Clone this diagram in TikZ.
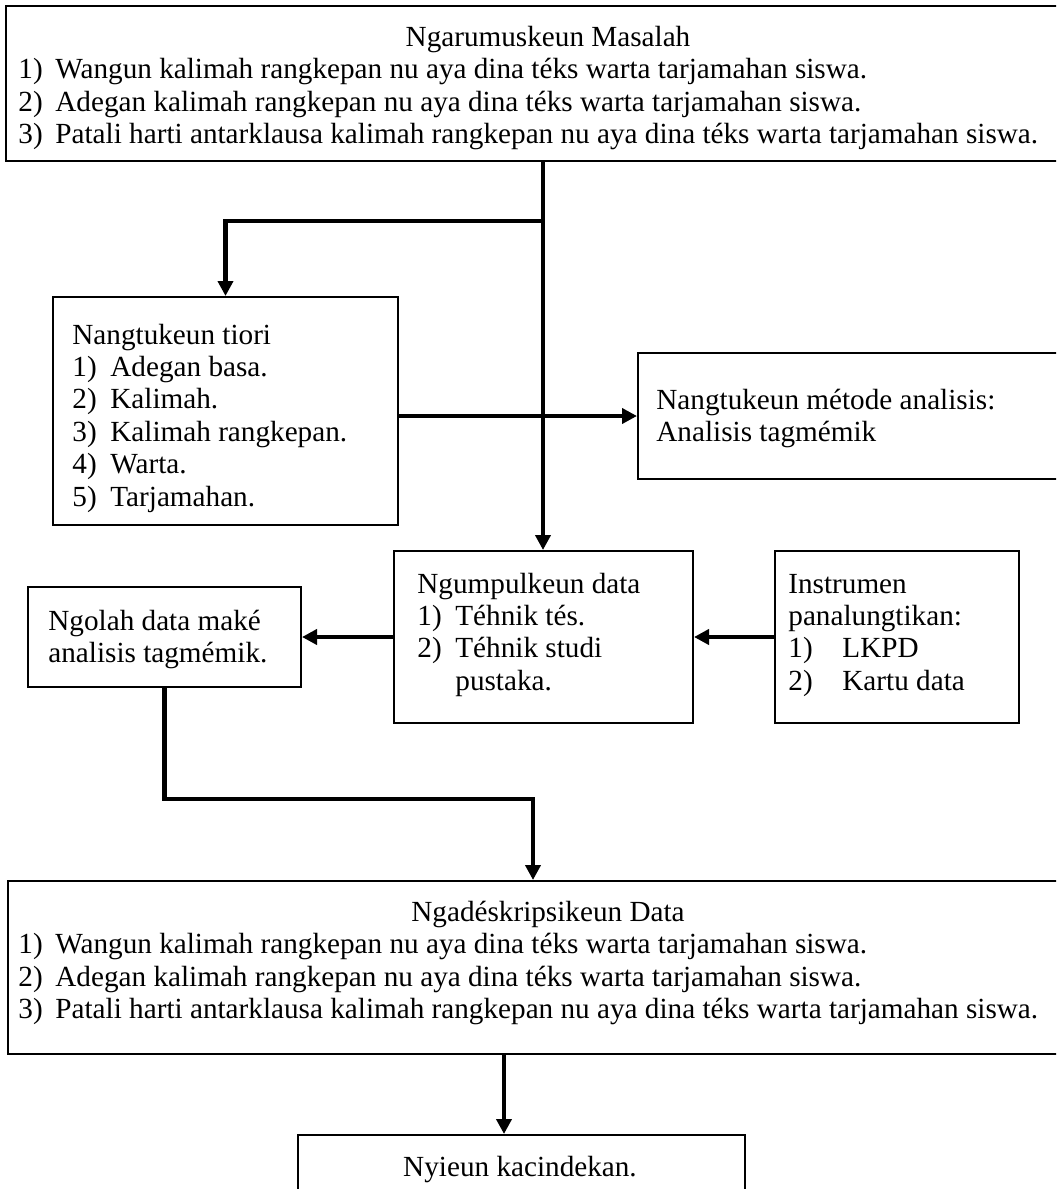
\documentclass[tikz,border=0pt]{standalone}
\usepackage{fontspec}
\setmainfont{Liberation Serif}
\usetikzlibrary{arrows.meta}
\begin{document}
\begin{tikzpicture}[x=0.5pt,y=-0.5pt,
  box/.style={draw,line width=1pt,anchor=north west,inner sep=0pt,rectangle},
  txt/.style={anchor=base west,inner sep=0pt,font=\fontsize{14.6}{16.2}\selectfont},
  ctxt/.style={anchor=base,inner sep=0pt,font=\fontsize{14.6}{16.2}\selectfont},
  conn/.style={line width=2.2pt,-{Triangle[width=7.5pt,length=7.5pt]}},
  plainline/.style={line width=2.2pt}]
\useasboundingbox (0,0) rectangle (1056,1189);
\clip (0,0) rectangle (1056,1189);
\fill[white] (0,0) rectangle (1056,1189);

% boxes
\node[box,minimum width=537.5pt,minimum height=77.5pt] (top) at (5,5) {};
\node[box,minimum width=172.5pt,minimum height=114pt] (tiori) at (52,296) {};
\node[box,minimum width=225pt,minimum height=63pt] (metode) at (637,352) {};
\node[box,minimum width=149.5pt,minimum height=86pt] (ngum) at (393,550) {};
\node[box,minimum width=122pt,minimum height=86pt] (instr) at (774,550) {};
\node[box,minimum width=136.5pt,minimum height=50pt] (ngolah) at (27,586) {};
\node[box,minimum width=536.5pt,minimum height=86.5pt] (data) at (7,880) {};
\node[box,minimum width=223.5pt,minimum height=50pt] (final) at (297,1134) {};

% texts: top box
\node[ctxt] (t0) at (548,46) {Ngarumuskeun Masalah};
\node[txt] (t1n) at (18,78) {1)};
\node[txt] (t1) at (55,78) {Wangun kalimah rangkepan nu aya dina téks warta tarjamahan siswa.};
\node[txt] (t2n) at (18,111) {2)};
\node[txt] (t2) at (55,111) {Adegan kalimah rangkepan nu aya dina téks warta tarjamahan siswa.};
\node[txt] (t3n) at (18,143) {3)};
\node[txt] (t3) at (55,143) {Patali harti antarklausa kalimah rangkepan nu aya dina téks warta tarjamahan siswa.};

% tiori
\node[txt] (a0) at (72,344) {Nangtukeun tiori};
\node[txt] (a1n) at (72,376) {1)};
\node[txt] (a1) at (110,376) {Adegan basa.};
\node[txt] (a2n) at (72,408) {2)};
\node[txt] (a2) at (110,408) {Kalimah.};
\node[txt] (a3n) at (72,441) {3)};
\node[txt] (a3) at (110,441) {Kalimah rangkepan.};
\node[txt] (a4n) at (72,473) {4)};
\node[txt] (a4) at (110,473) {Warta.};
\node[txt] (a5n) at (72,506) {5)};
\node[txt] (a5) at (110,506) {Tarjamahan.};

% metode
\node[txt] (m0) at (656,409) {Nangtukeun métode analisis:};
\node[txt] (m1) at (656,441) {Analisis tagmémik};

% ngumpulkeun
\node[txt] (n0) at (417,593) {Ngumpulkeun data};
\node[txt] (n1n) at (417,625) {1)};
\node[txt] (n1) at (455,625) {Téhnik tés.};
\node[txt] (n2n) at (417,657) {2)};
\node[txt] (n2) at (455,657) {Téhnik studi};
\node[txt] (n3) at (455,690) {pustaka.};

% instrumen
\node[txt] (i0) at (788,593) {Instrumen};
\node[txt] (i1) at (788,625) {panalungtikan:};
\node[txt] (i2n) at (788,657) {1)};
\node[txt] (i2) at (842,657) {LKPD};
\node[txt] (i3n) at (788,690) {2)};
\node[txt] (i3) at (842,690) {Kartu data};

% ngolah
\node[txt] (g0) at (48,630) {Ngolah data maké};
\node[txt] (g1) at (48,662) {analisis tagmémik.};

% data
\node[ctxt] (d0) at (548,921) {Ngadéskripsikeun Data};
\node[txt] (d1n) at (18,953) {1)};
\node[txt] (d1) at (55,953) {Wangun kalimah rangkepan nu aya dina téks warta tarjamahan siswa.};
\node[txt] (d2n) at (18,986) {2)};
\node[txt] (d2) at (55,986) {Adegan kalimah rangkepan nu aya dina téks warta tarjamahan siswa.};
\node[txt] (d3n) at (18,1018) {3)};
\node[txt] (d3) at (55,1018) {Patali harti antarklausa kalimah rangkepan nu aya dina téks warta tarjamahan siswa.};

% final
\node[ctxt] (f0) at (520,1176) {Nyieun kacindekan.};

% connectors
\coordinate (j1) at (543,221);
\coordinate (k1) at (533,799);
\coordinate (f1) at (504,1100);
\draw[conn] (top.south -| j1) -- (ngum.north -| j1);
\draw[conn] (j1) -| (tiori.north);
\draw[conn] (tiori.east |- metode.west) -- (metode.west);
\draw[conn] (instr.west) -- (ngum.east);
\draw[conn] (ngum.west) -- (ngolah.east);
\draw[conn] (ngolah.south) |- (k1) -- (k1 |- data.north);
\draw[conn] (data.south -| f1) -- (final.north -| f1);
\end{tikzpicture}
\end{document}
